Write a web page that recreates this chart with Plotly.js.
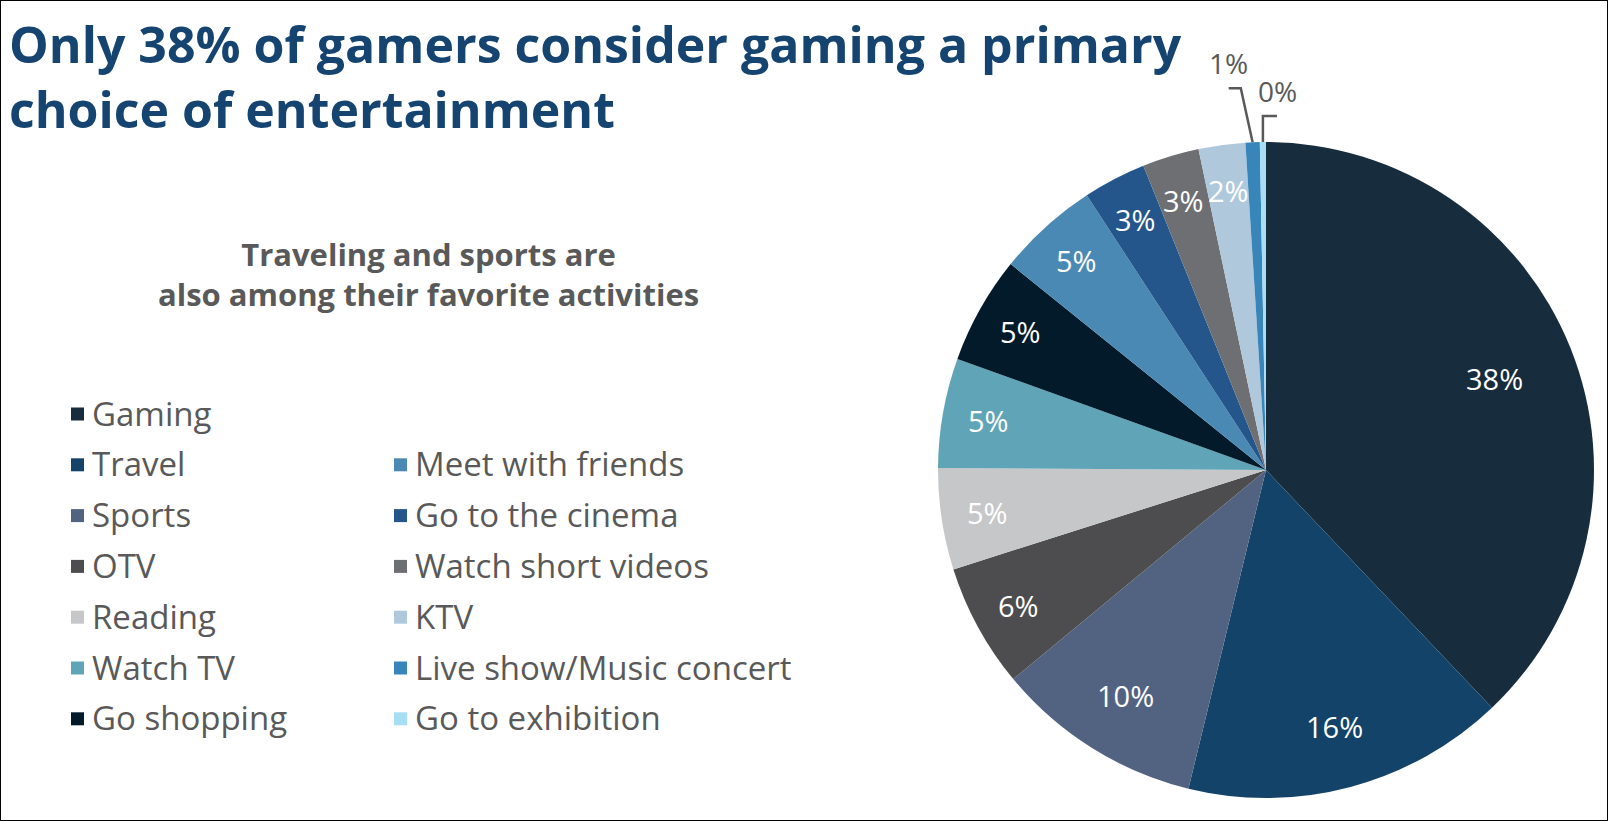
<!DOCTYPE html>
<html>
<head>
<meta charset="utf-8">
<script src="https://cdn.plot.ly/plotly-3.0.1.min.js"></script>
<style>
  body { margin: 0; background: #fff; }
  #frame { width: 1608px; height: 821px; box-sizing: border-box; border: 1px solid #000; }
  #chart { width: 1606px; height: 819px; }
</style>
</head>
<body>
<div id="frame"><div id="chart"></div></div>
<script>
// activities, in the order the slices run clockwise from 12 o'clock
const activities = [
  "Gaming", "Travel", "Sports", "OTV", "Reading", "Watch TV", "Go shopping",
  "Meet with friends", "Go to the cinema", "Watch short videos", "KTV",
  "Live show/Music concert", "Go to exhibition"
];
// share of gamers (%)
const shares = [37.9, 15.9, 10.2, 6.1, 5.0, 5.4, 5.3, 5.0, 3.1, 2.8, 2.3, 0.7, 0.3];

const sliceColors = [
  "#172c3d", "#134368", "#526382", "#4d4d4f", "#c6c7c9", "#5fa4b7", "#031a2a",
  "#4b89b5", "#24568b", "#6e6f73", "#b0c8dc", "#3886b9", "#a7def6"
];

// leader line shapes for the two slivers labelled outside the pie
const leaders = [
  { lean: -0.036, rise: 0.165, tail: -0.037 },
  { lean: 0, rise: 0.079, tail: 0.043 }
];

const W = 1606, H = 819;
const px = x => x / W;
const py = y => 1 - y / H;

// pie box: centre (1265, 469), radius 328
const cx = 1265, cy = 469, R = 328;
const domX = [px(cx - R), px(cx + R)];
const domY = [py(cy + R), py(cy - R)];
// the y axis runs up to the top of the page, same scale as the pie
const yTop = -1 + 2 * (1 - domY[0]) / (domY[1] - domY[0]);

const isOutside = v => v < 1;
const fmt = v => Math.round(v) + "%";

const pie = {
  type: "pie",
  labels: activities,
  values: shares,
  sort: false,
  direction: "clockwise",
  rotation: 0,
  marker: { colors: sliceColors, line: { width: 0 } },
  textinfo: "none",
  textposition: "none",
  hoverinfo: "label+percent",
  domain: { x: domX, y: domY },
  showlegend: false
};

const annotations = [
  {
    text: "Only 38% of gamers consider gaming a primary<br>choice of entertainment",
    xref: "paper", yref: "paper", x: px(6), y: py(75),
    xanchor: "left", yanchor: "middle", align: "left", showarrow: false,
    font: { family: "Open Sans", size: 50, color: "#154470", weight: 700 }
  },
  {
    text: "Traveling and sports are<br>also among their favorite activities",
    xref: "paper", yref: "paper", x: px(427), y: py(273),
    xanchor: "center", yanchor: "middle", align: "center", showarrow: false,
    font: { family: "Open Sans", size: 31, color: "#595959", weight: 700 }
  }
];
const shapes = [];
const traces = [pie];

// slice labels sit on the bisector; slivers go outside with a leader line
const total = shares.reduce((a, b) => a + b, 0);
let run = 0, k = 0;
shares.forEach(function(v) {
  const mid = (run + v / 2) / total * 2 * Math.PI;
  run += v;
  const sx = Math.sin(mid), sy = Math.cos(mid);
  if (isOutside(v)) {
    const ld = leaders[k++];
    const ex = sx + ld.lean, ey = sy + ld.rise;
    const tx = ex + ld.tail;
    traces.push({
      type: "scatter", mode: "lines",
      x: [sx, ex, tx], y: [sy, ey, ey],
      line: { color: "#595959", width: 2.5 },
      hoverinfo: "skip", showlegend: false
    });
    annotations.push({
      text: fmt(v), xref: "x", yref: "y",
      x: tx, y: ey + 0.012,
      xanchor: "center", yanchor: "bottom", showarrow: false,
      font: { family: "Open Sans", size: 28, color: "#595959" }
    });
    return;
  }
  const r = v > 30 ? 0.75 : v > 8 ? 0.81 : 0.86;
  annotations.push({
    text: fmt(v), xref: "x", yref: "y",
    x: r * sx, y: r * sy,
    xanchor: "center", yanchor: "middle", showarrow: false,
    font: { family: "Open Sans", size: 29, color: "#ffffff" }
  });
});

// hand-made legend: Gaming alone on top, then two columns of six
activities.forEach(function(name, i) {
  const col = i < 7 ? 0 : 1;
  const row = i < 7 ? i : i - 6;
  const sx = col === 0 ? 70 : 393;
  const y = 413 + row * 50.8;
  shapes.push({
    type: "rect", xref: "paper", yref: "paper",
    x0: px(sx), x1: px(sx + 13), y0: py(y + 6.5), y1: py(y - 6.5),
    fillcolor: sliceColors[i], line: { width: 0 }
  });
  annotations.push({
    text: name, xref: "paper", yref: "paper",
    x: px(sx + 19), y: py(y - 1), xanchor: "left", yanchor: "middle",
    showarrow: false,
    font: { family: "Open Sans", size: 33, color: "#595959" }
  });
});

const layout = {
  width: W,
  height: H,
  margin: { l: 0, r: 0, t: 0, b: 0, pad: 0 },
  paper_bgcolor: "#ffffff",
  plot_bgcolor: "rgba(0,0,0,0)",
  showlegend: false,
  xaxis: { domain: domX, range: [-1, 1], visible: false, fixedrange: true },
  yaxis: { domain: [domY[0], 1], range: [-1, yTop], visible: false, fixedrange: true },
  annotations: annotations,
  shapes: shapes
};

Plotly.newPlot("chart", traces, layout, { displayModeBar: false, staticPlot: true });
</script>
</body>
</html>
